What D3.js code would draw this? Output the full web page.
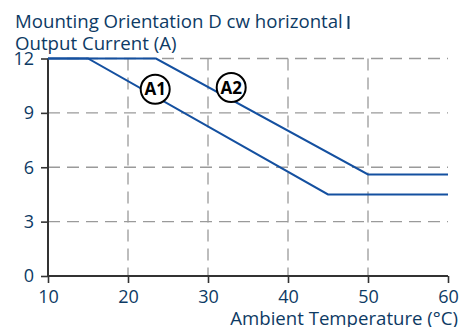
<!DOCTYPE html>
<html>
<head>
<meta charset="utf-8">
<script src="https://cdn.jsdelivr.net/npm/d3@7/dist/d3.min.js"></script>
<style>
  html, body { margin: 0; padding: 0; background: #fff; }
  svg { display: block; }
  text { font-family: "Open Sans", "Noto Sans", sans-serif; }
</style>
</head>
<body>
<svg id="chart" width="467" height="327"></svg>
<script>
// Derating curves: output current vs ambient temperature
const xTicks = [10, 20, 30, 40, 50, 60];
const yTicks = [0, 3, 6, 9, 12];
const seriesA1 = [[10, 12], [15, 12], [45, 4.5], [60, 4.5]];
const seriesA2 = [[10, 12], [23.5, 12], [50, 5.6], [60, 5.6]];
const curveLabels = ["A1", "A2"];
// centre of each circled label (temperature, current)
const labelPoints = [[23.4, 10.3], [32.9, 10.4]];
const titleLines = ["Mounting Orientation D cw horizontal", "Output Current (A)"];
const xTitle = "Ambient Temperature (°C)";

const textColor = "#0d3a64";
const lineColor = "#1450a0";

const svg = d3.select("#chart");
const x = d3.scaleLinear().domain([10, 60]).range([48, 448]);
const y = d3.scaleLinear().domain([0, 12]).range([276, 58.5]);

// shrink or grow a text's font so that it spans the given width
function fitWidth(sel, width, base) {
  sel.each(function () {
    const w = this.getComputedTextLength();
    d3.select(this).style("font-size", (base * width / w).toFixed(2) + "px");
  });
}

// dashed grid
const grid = svg.append("g").attr("stroke", "#9a9a9a").attr("stroke-width", 1.3)
  .attr("stroke-dasharray", "12,7").attr("fill", "none");
grid.selectAll("line.h").data(yTicks.filter(d => d > 0)).join("line")
  .attr("class", "h")
  .attr("x1", x(10)).attr("x2", x(60))
  .attr("y1", d => y(d)).attr("y2", d => y(d));
grid.selectAll("line.v").data(xTicks.filter(d => d > 10 && d < 60)).join("line")
  .attr("class", "v")
  .attr("x1", d => x(d)).attr("x2", d => x(d))
  .attr("y1", y(12)).attr("y2", y(0));

// axes
const xAxis = d3.axisBottom(x).tickValues(xTicks).tickSize(7).tickPadding(7);
const yAxis = d3.axisLeft(y).tickValues(yTicks).tickSize(7).tickPadding(7);

const gx = svg.append("g").attr("transform", `translate(0,${y(0)})`).call(xAxis);
const gy = svg.append("g").attr("transform", `translate(${x(10)},0)`).call(yAxis);
[gx, gy].forEach(g => {
  g.select(".domain").attr("stroke", "#333").attr("stroke-width", 2);
  g.selectAll(".tick line").attr("stroke", "#333").attr("stroke-width", 1.6);
  g.selectAll(".tick text").attr("fill", textColor)
    .style("font-family", '"Open Sans", sans-serif').style("font-size", "18px");
});
gx.select(".domain").attr("d", `M${x(10)},0H${x(60)}`);
gy.select(".domain").attr("d", `M0,${y(0)}V${y(12)}`);

// curves
const line = d3.line().x(d => x(d[0])).y(d => y(d[1]));
[seriesA1, seriesA2].forEach(s => {
  svg.append("path").datum(s).attr("d", line)
    .attr("fill", "none").attr("stroke", lineColor).attr("stroke-width", 2)
    .attr("stroke-linejoin", "miter");
});

// circled curve labels
const lbl = svg.selectAll("g.lbl").data(curveLabels).join("g")
  .attr("class", "lbl")
  .attr("transform", (d, i) => `translate(${x(labelPoints[i][0])},${y(labelPoints[i][1])})`);
lbl.append("circle").attr("r", 14.5).attr("fill", "#fff").attr("stroke", "#000").attr("stroke-width", 2);
lbl.append("text").text(d => d).attr("text-anchor", "middle").attr("dy", "0.36em")
  .attr("fill", "#000").style("font-size", "17px").style("font-weight", "bold");

// titles
const titles = svg.selectAll("text.title").data(titleLines).join("text")
  .attr("class", "title")
  .attr("x", 15).attr("y", (d, i) => 28.3 + i * 21.7)
  .attr("fill", textColor).style("font-size", "17px")
  .text(d => d);
fitWidth(titles.filter((d, i) => i === 0), 328, 17);
titles.filter((d, i) => i === 1).style("font-size", titles.filter((d, i) => i === 0).style("font-size"));
svg.append("rect").attr("x", 347.5).attr("y", 16).attr("width", 2).attr("height", 13).attr("fill", textColor);

const xt = svg.append("text").attr("x", 458).attr("y", 325).attr("text-anchor", "end")
  .attr("fill", textColor).style("font-size", "17px").text(xTitle);
fitWidth(xt, 228, 17);
</script>
</body>
</html>
